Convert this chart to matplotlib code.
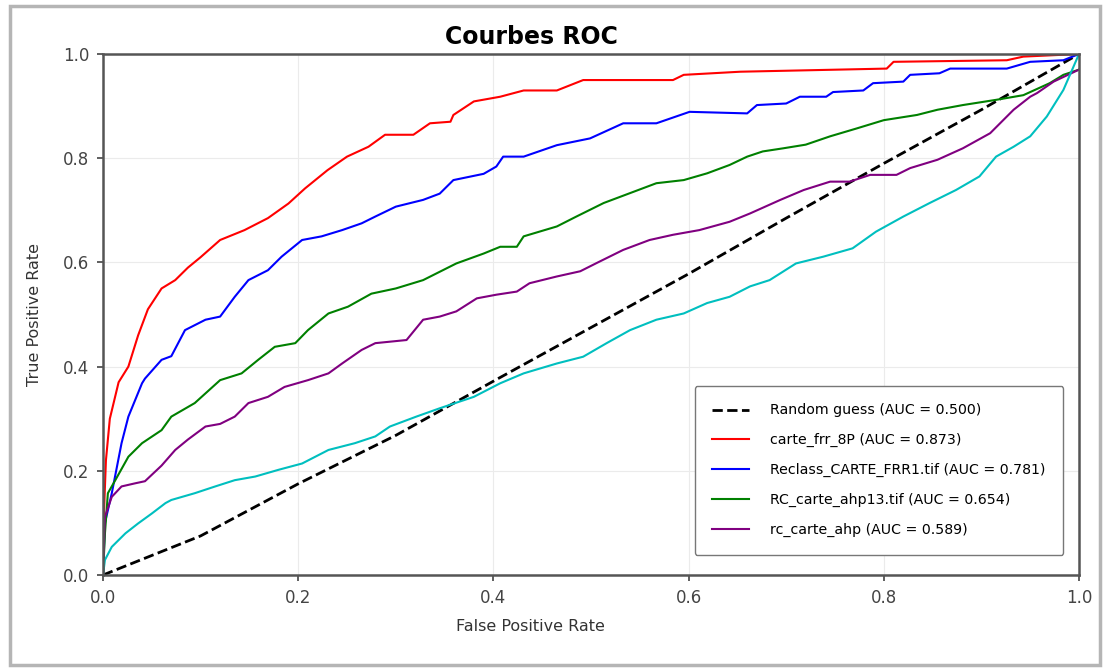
#!/usr/bin/env python3
"""ROC curves (Courbes ROC) for the five susceptibility maps."""

import matplotlib
matplotlib.use("Agg")
import matplotlib.pyplot as plt
from matplotlib.patches import Rectangle

# values
random_fpr = [0.0, 0.1, 0.2, 0.3, 0.4, 0.5, 0.6, 0.7, 0.8, 0.9, 1.0]
random_tpr = [0.0, 0.075, 0.175, 0.268, 0.372, 0.475, 0.578, 0.685, 0.79, 0.893, 1.0]

red_fpr = [0.0, 0.001, 0.003, 0.007, 0.016, 0.026, 0.036, 0.046, 0.06, 0.074, 0.087,
           0.10, 0.12, 0.145, 0.169, 0.19, 0.207, 0.23, 0.25, 0.272, 0.289, 0.318,
           0.335, 0.356, 0.359, 0.38, 0.407, 0.431, 0.465, 0.492, 0.584, 0.595,
           0.653, 0.803, 0.81, 0.926, 0.943, 1.0]
red_tpr = [0.0, 0.12, 0.22, 0.30, 0.37, 0.40, 0.46, 0.51, 0.55, 0.566, 0.59,
           0.61, 0.643, 0.662, 0.685, 0.713, 0.742, 0.777, 0.803, 0.822, 0.845, 0.845,
           0.867, 0.87, 0.883, 0.909, 0.918, 0.93, 0.93, 0.95, 0.95, 0.96,
           0.966, 0.972, 0.985, 0.988, 0.995, 1.0]

blue_fpr = [0.0, 0.002, 0.009, 0.019, 0.026, 0.04, 0.043, 0.06, 0.07, 0.084, 0.105,
            0.12, 0.135, 0.149, 0.169, 0.183, 0.204, 0.224, 0.245, 0.265, 0.279,
            0.30, 0.328, 0.345, 0.359, 0.39, 0.403, 0.41, 0.431, 0.465, 0.499,
            0.533, 0.567, 0.601, 0.66, 0.67, 0.70, 0.714, 0.741, 0.748, 0.779,
            0.789, 0.82, 0.827, 0.857, 0.868, 0.926, 0.95, 0.984, 1.0]
blue_tpr = [0.0, 0.10, 0.157, 0.253, 0.304, 0.368, 0.377, 0.413, 0.42, 0.47, 0.49,
            0.496, 0.534, 0.566, 0.585, 0.611, 0.643, 0.65, 0.662, 0.675, 0.688,
            0.707, 0.72, 0.732, 0.758, 0.77, 0.784, 0.803, 0.803, 0.825, 0.838,
            0.867, 0.867, 0.889, 0.886, 0.902, 0.905, 0.918, 0.918, 0.927, 0.93,
            0.944, 0.947, 0.96, 0.963, 0.972, 0.972, 0.985, 0.988, 1.0]

green_fpr = [0.0, 0.002, 0.005, 0.012, 0.026, 0.04, 0.06, 0.07, 0.094, 0.12, 0.142,
             0.159, 0.176, 0.197, 0.21, 0.231, 0.251, 0.275, 0.30, 0.328, 0.362,
             0.39, 0.407, 0.424, 0.431, 0.465, 0.485, 0.513, 0.54, 0.567, 0.595,
             0.619, 0.642, 0.66, 0.676, 0.697, 0.72, 0.745, 0.772, 0.8, 0.834,
             0.855, 0.881, 0.915, 0.943, 0.97, 0.984, 1.0]
green_tpr = [0.0, 0.08, 0.157, 0.18, 0.227, 0.253, 0.278, 0.304, 0.33, 0.374, 0.387,
             0.413, 0.438, 0.445, 0.47, 0.502, 0.515, 0.54, 0.55, 0.566, 0.598,
             0.617, 0.63, 0.63, 0.65, 0.669, 0.688, 0.714, 0.733, 0.752, 0.758,
             0.771, 0.787, 0.803, 0.813, 0.819, 0.826, 0.842, 0.857, 0.873, 0.883,
             0.893, 0.902, 0.912, 0.921, 0.944, 0.96, 0.97]

purple_fpr = [0.0, 0.001, 0.002, 0.009, 0.019, 0.033, 0.043, 0.06, 0.074, 0.087, 0.105,
              0.12, 0.135, 0.149, 0.169, 0.186, 0.21, 0.231, 0.245, 0.265, 0.279,
              0.311, 0.328, 0.345, 0.362, 0.383, 0.403, 0.424, 0.437, 0.465, 0.489,
              0.506, 0.533, 0.56, 0.584, 0.611, 0.642, 0.663, 0.694, 0.718, 0.745,
              0.765, 0.786, 0.813, 0.827, 0.855, 0.881, 0.909, 0.933, 0.95, 0.957,
              0.974, 1.0]
purple_tpr = [0.0, 0.06, 0.112, 0.15, 0.17, 0.176, 0.18, 0.21, 0.24, 0.26, 0.285,
              0.29, 0.304, 0.33, 0.342, 0.361, 0.374, 0.387, 0.406, 0.432, 0.445,
              0.451, 0.49, 0.496, 0.506, 0.531, 0.538, 0.544, 0.56, 0.573, 0.583,
              0.599, 0.624, 0.643, 0.653, 0.662, 0.678, 0.694, 0.72, 0.739, 0.755,
              0.755, 0.768, 0.768, 0.781, 0.797, 0.819, 0.848, 0.893, 0.918, 0.925,
              0.947, 0.97]

cyan_fpr = [0.0, 0.002, 0.009, 0.023, 0.036, 0.05, 0.064, 0.07, 0.094, 0.115, 0.135,
            0.156, 0.18, 0.204, 0.231, 0.258, 0.279, 0.294, 0.321, 0.345, 0.38,
            0.407, 0.431, 0.465, 0.492, 0.516, 0.54, 0.567, 0.595, 0.619, 0.642,
            0.663, 0.683, 0.71, 0.738, 0.768, 0.792, 0.82, 0.847, 0.874, 0.898,
            0.915, 0.933, 0.95, 0.967, 0.984, 1.0]
cyan_tpr = [0.0, 0.029, 0.054, 0.08, 0.099, 0.118, 0.138, 0.144, 0.157, 0.17, 0.182,
            0.189, 0.202, 0.214, 0.24, 0.253, 0.266, 0.285, 0.304, 0.32, 0.342,
            0.368, 0.387, 0.406, 0.419, 0.445, 0.47, 0.49, 0.502, 0.522, 0.534,
            0.554, 0.566, 0.598, 0.611, 0.627, 0.659, 0.688, 0.714, 0.739, 0.765,
            0.803, 0.822, 0.842, 0.88, 0.931, 1.0]

CURVES = [
    (red_fpr, red_tpr, "red", "carte_frr_8P (AUC = 0.873)"),
    (blue_fpr, blue_tpr, "blue", "Reclass_CARTE_FRR1.tif (AUC = 0.781)"),
    (green_fpr, green_tpr, "green", "RC_carte_ahp13.tif (AUC = 0.654)"),
    (purple_fpr, purple_tpr, "purple", "rc_carte_ahp (AUC = 0.589)"),
]

TICKS = [0.0, 0.2, 0.4, 0.6, 0.8, 1.0]
TICK_LABELS = ["0.0", "0.2", "0.4", "0.6", "0.8", "1.0"]


def main() -> None:
    fig = plt.figure(figsize=(11.06, 6.71), dpi=100)
    ax = fig.add_axes([103 / 1106, 1 - 575 / 671, 976 / 1106, 521 / 671])

    ax.plot(random_fpr, random_tpr, "k--", linewidth=2.0,
            label="Random guess (AUC = 0.500)")
    for fpr, tpr, color, label in CURVES:
        ax.plot(fpr, tpr, color=color, linewidth=1.5, label=label)
    # cyan curve has no legend entry in the original
    ax.plot(cyan_fpr, cyan_tpr, color="c", linewidth=1.5)

    ax.set_xlim(0, 1)
    ax.set_ylim(0, 1)
    ax.set_xticks(TICKS)
    ax.set_xticklabels(TICK_LABELS)
    ax.set_yticks(TICKS)
    ax.set_yticklabels(TICK_LABELS)
    ax.tick_params(labelsize=12, colors="#444444", length=4, width=1.2, pad=6)
    ax.grid(True, color="#ebebeb", linewidth=0.8)
    for spine in ax.spines.values():
        spine.set_color("#555555")
        spine.set_linewidth(1.8)

    ax.set_title("Courbes ROC", fontsize=17, fontweight="bold",
                 x=(531 - 103) / 976, pad=7)
    ax.set_xlabel("False Positive Rate", fontsize=11.5, color="#333333")
    ax.xaxis.set_label_coords((530 - 103) / 976, -0.085)
    ax.set_ylabel("True Positive Rate", fontsize=11.5, color="#333333")
    ax.yaxis.set_label_coords(-0.062, 0.5)

    ax.legend(
        loc="lower right",
        bbox_to_anchor=(0.984, 0.038),
        borderaxespad=0.0,
        fontsize=10.2,
        labelspacing=1.12,
        handlelength=2.6,
        handletextpad=1.5,
        borderpad=1.25,
        fancybox=True,
        framealpha=1.0,
        edgecolor="#777777",
    )

    # screenshot frame around the figure
    fig.patches.append(Rectangle((10 / 1106, 6 / 671), 1090 / 1106, 659 / 671,
                                 transform=fig.transFigure, fill=False,
                                 edgecolor="#b5b5b5", linewidth=2.5))

    fig.savefig("out.png", dpi=100)
    plt.close(fig)


if __name__ == "__main__":
    main()
